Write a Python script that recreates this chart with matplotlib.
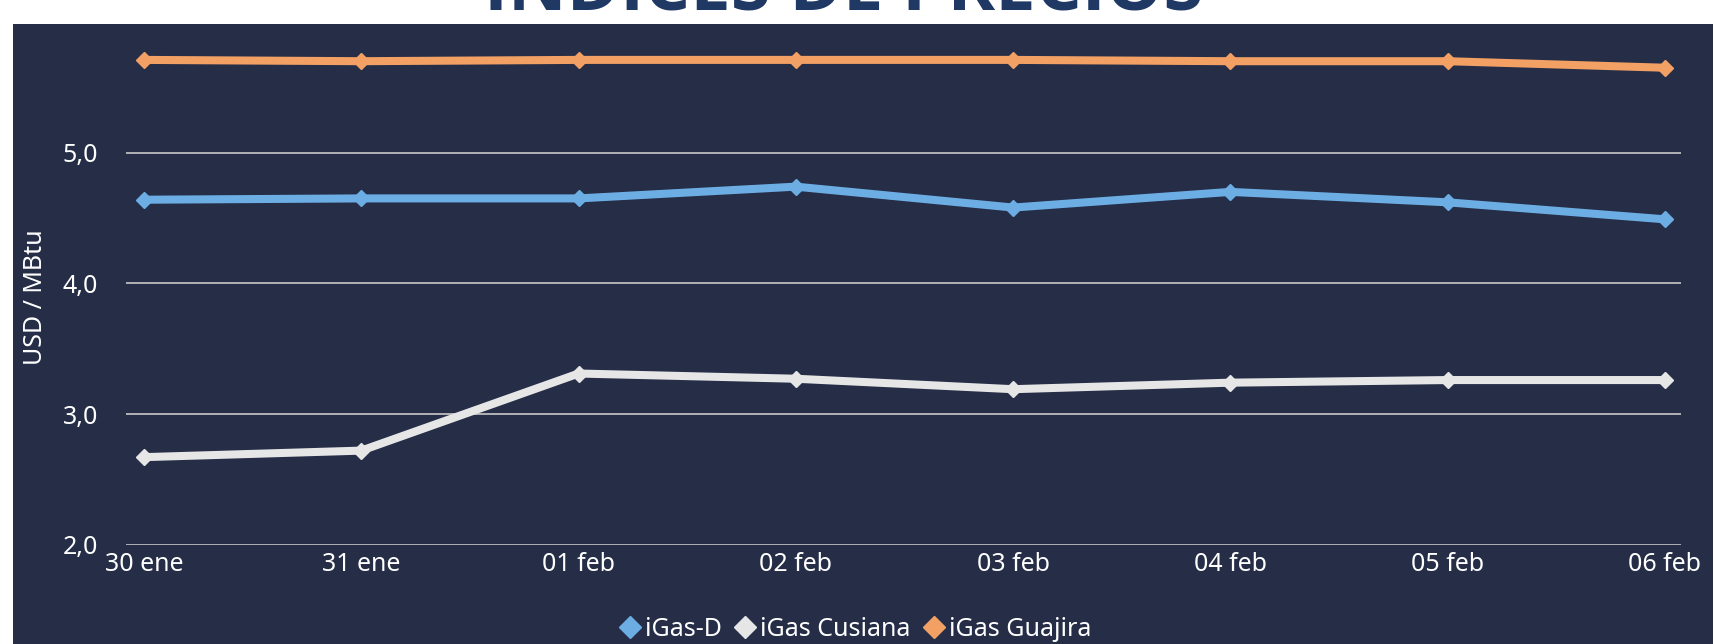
import numpy as np
import matplotlib.pyplot as plt
from matplotlib.patches import Rectangle
from matplotlib.lines import Line2D

plt.rcParams['font.family'] = ['Noto Sans', 'DejaVu Sans']

fechas = ['30 ene', '31 ene', '01 feb', '02 feb', '03 feb', '04 feb', '05 feb', '06 feb']
igas_d = [4.64, 4.65, 4.65, 4.74, 4.58, 4.70, 4.62, 4.49]
igas_cusiana = [2.67, 2.72, 3.31, 3.27, 3.19, 3.24, 3.26, 3.26]
igas_guajira = [5.71, 5.70, 5.71, 5.71, 5.71, 5.70, 5.70, 5.65]

bg = '#252d47'
c_d = '#6caee3'
c_cus = '#e6e6e6'
c_gua = '#f2a064'

W, H = 1715, 644
fig = plt.figure(figsize=(W / 100, H / 100), dpi=100)
fig.patch.set_facecolor('white')

# fondo oscuro del panel
fig.patches.append(Rectangle((13 / W, 0), 1700 / W, (H - 24) / H,
                             transform=fig.transFigure, facecolor=bg,
                             edgecolor='none', zorder=-5))

# titulo cortado arriba
fig.text(844 / W, 1 - 10 / H, 'ÍNDICES DE PRECIOS', ha='center', va='baseline',
         fontsize=52, fontweight='bold', color='#1f3864',
         family=['Open Sans', 'DejaVu Sans'])

ax = fig.add_axes([126 / W, (H - 544.7) / H, (1681 - 126) / W, (544.7 - 22) / H])
ax.set_facecolor('none')
ax.set_zorder(2)

x = np.arange(len(fechas))
series = [(igas_d, c_d, 'iGas-D'), (igas_cusiana, c_cus, 'iGas Cusiana'),
          (igas_guajira, c_gua, 'iGas Guajira')]
for vals, col, lab in series:
    ax.plot(x, vals, color=col, linewidth=5.8, marker='D', markersize=8,
            solid_joinstyle='round', label=lab, zorder=3)

ax.set_xlim(-0.083, 7.074)
ax.set_ylim(2, 6)
ax.set_yticks([2, 3, 4, 5])
ax.set_yticklabels(['2,0', '3,0', '4,0', '5,0'])
ax.set_xticks(x)
ax.set_xticklabels(fechas)
ax.grid(axis='y', color='#c8c8c8', linewidth=1.2)
ax.tick_params(axis='both', length=0, colors='white', labelsize=18)
ax.tick_params(axis='y', pad=20)
ax.tick_params(axis='x', pad=5)
for s in ax.spines.values():
    s.set_visible(False)

fig.text(36 / W, 1 - 297 / H, 'USD / MBtu', rotation=90, ha='center', va='center',
         fontsize=18, color='white')

handles = [Line2D([], [], color=col, marker='D', linestyle='none', markersize=11)
           for _, col, _ in series]
labels = [lab for _, _, lab in series]
leg = fig.legend(handles, labels, loc='center', bbox_to_anchor=(855 / W, 1 - 629 / H),
                 ncol=3, frameon=False, fontsize=18, handletextpad=0.15,
                 columnspacing=0.5, handlelength=0.9)
for t in leg.get_texts():
    t.set_color('white')

plt.savefig('out.png', dpi=100)
